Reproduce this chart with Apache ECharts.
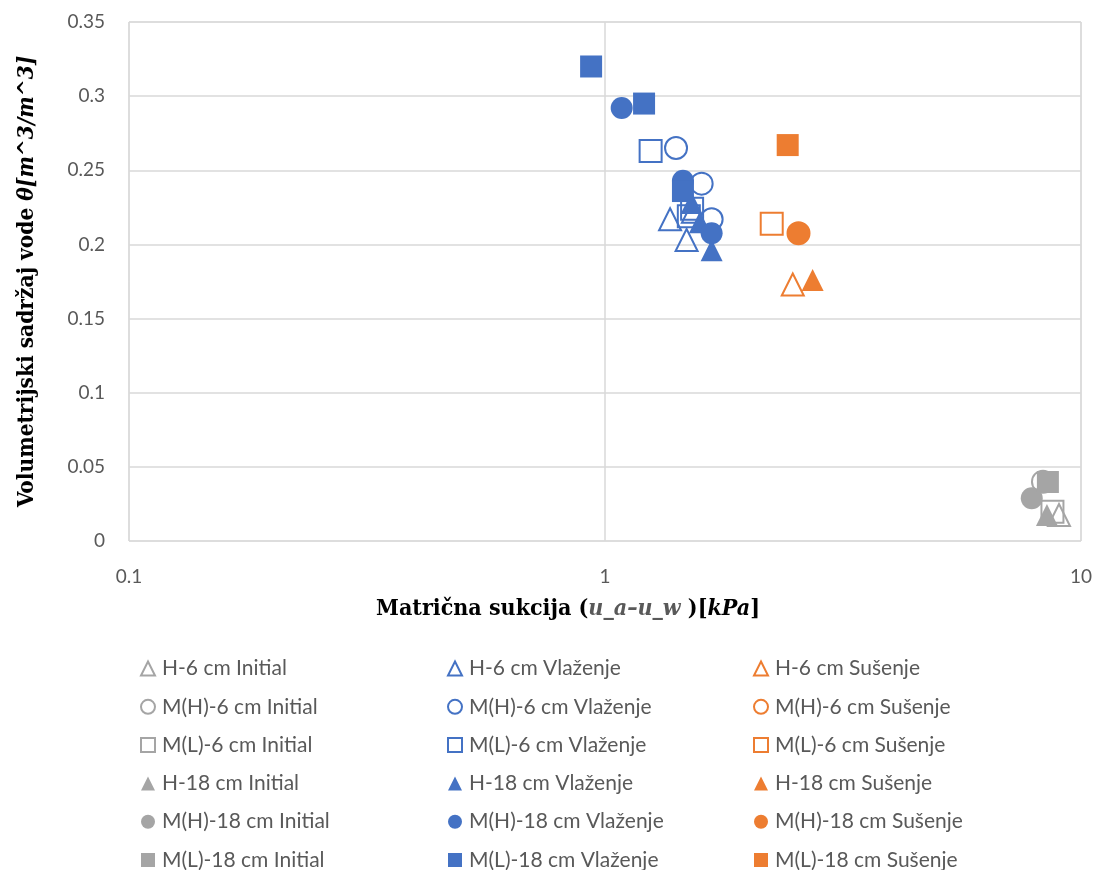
<!DOCTYPE html>
<html>
<head>
<meta charset="utf-8">
<script src="https://cdn.jsdelivr.net/npm/echarts@6/dist/echarts.min.js"></script>
<style>
  html, body { margin: 0; padding: 0; background: #fff; }
  #myEchart { width: 1103px; height: 870px; }
</style>
</head>
<body>
<div id="myEchart"></div>
<script>
// [matrična sukcija kPa, volumetrijski sadržaj vode]
const h6Initial   = [[8.99, 0.0175]];
const mh6Initial  = [[8.32, 0.040]];
const ml6Initial  = [[8.71, 0.0198]];
const h18Initial  = [[8.48, 0.0175]];
const mh18Initial = [[7.88, 0.0288]];
const ml18Initial = [[8.52, 0.0398]];

const h6Vlazenje   = [[1.37, 0.217], [1.484, 0.203], [1.53, 0.222]];
const mh6Vlazenje  = [[1.41, 0.265], [1.596, 0.241], [1.675, 0.217]];
const ml6Vlazenje  = [[1.247, 0.263], [1.50, 0.219], [1.524, 0.224]];
const h18Vlazenje  = [[1.52, 0.228], [1.583, 0.215], [1.675, 0.196]];
const mh18Vlazenje = [[1.084, 0.292], [1.458, 0.243], [1.675, 0.2075]];
const ml18Vlazenje = [[0.935, 0.32], [1.208, 0.295], [1.458, 0.236]];

const h6Susenje   = [[2.48, 0.173]];
const mh6Susenje  = [[2.55, 0.2075]];
const ml6Susenje  = [[2.24, 0.214]];
const h18Susenje  = [[2.73, 0.176]];
const mh18Susenje = [[2.55, 0.2075]];
const ml18Susenje = [[2.42, 0.267]];

const yTicks = [0, 0.05, 0.1, 0.15, 0.2, 0.25, 0.3, 0.35];

const uzorci = ['H-6 cm', 'M(H)-6 cm', 'M(L)-6 cm', 'H-18 cm', 'M(H)-18 cm', 'M(L)-18 cm'];
const faze = ['Initial', 'Vlaženje', 'Sušenje'];
const podaci = {
  Initial:  [h6Initial, mh6Initial, ml6Initial, h18Initial, mh18Initial, ml18Initial],
  'Vlaženje': [h6Vlazenje, mh6Vlazenje, ml6Vlazenje, h18Vlazenje, mh18Vlazenje, ml18Vlazenje],
  'Sušenje':  [h6Susenje, mh6Susenje, ml6Susenje, h18Susenje, mh18Susenje, ml18Susenje]
};
const boje = { Initial: '#a5a5a5', 'Vlaženje': '#4472c4', 'Sušenje': '#ed7d31' };
const simboli = ['triangle', 'circle', 'rect', 'triangle', 'circle', 'rect'];

let series = [];
uzorci.forEach((u, i) => {
  faze.forEach(f => {
    let prazan = i < 3;
    series.push({
      name: u + ' ' + f,
      type: 'scatter',
      symbol: simboli[i],
      symbolSize: 22,
      data: podaci[f][i],
      itemStyle: prazan
        ? { color: 'rgba(255,255,255,0)', borderColor: boje[f], borderWidth: 2, opacity: 1 }
        : { color: boje[f], borderWidth: 0, opacity: 1 }
    });
  });
});

let legendCol = (f, left) => ({
  orient: 'vertical',
  left: left,
  top: 658,
  height: 214,
  padding: 0,
  itemWidth: 14,
  itemHeight: 14,
  itemGap: 17.3,
  textStyle: { fontFamily: 'Lato', fontSize: 21, color: '#595959', padding: [0, 0, 0, 2] },
  data: uzorci.map(u => u + ' ' + f)
});

const serif = "'DejaVu Serif Condensed', 'DejaVu Serif', serif";

let option = {
  animation: false,
  backgroundColor: '#fff',
  grid: {
    left: 129, right: 22, top: 22, bottom: 329,
    show: true, borderColor: '#d9d9d9', borderWidth: 1
  },
  legend: [legendCol('Initial', 140), legendCol('Vlaženje', 447), legendCol('Sušenje', 753)],
  xAxis: {
    type: 'log',
    logBase: 10,
    min: 0.1,
    max: 10,
    name: '{b|Matrična sukcija (}{g|u_a–u_w }{b|)[}{k|kPa}{b|]}',
    nameLocation: 'middle',
    nameGap: 57,
    nameTextStyle: {
      padding: [0, 74, 0, 0],
      rich: {
        b: { fontFamily: serif, fontWeight: 'bold', fontSize: 23, color: '#000' },
        g: { fontFamily: serif, fontStyle: 'italic', fontWeight: 'bold', fontSize: 23, color: '#595959' },
        k: { fontFamily: serif, fontStyle: 'italic', fontWeight: 'bold', fontSize: 23, color: '#000' }
      }
    },
    axisLine: { show: false },
    axisTick: { show: false },
    axisLabel: { fontFamily: 'Lato', fontSize: 19, color: '#595959', margin: 26 },
    splitLine: { show: true, lineStyle: { color: '#d9d9d9', width: 1.5 } }
  },
  yAxis: {
    type: 'value',
    min: yTicks[0],
    max: yTicks[yTicks.length - 1],
    interval: 0.05,
    name: '{b|Volumetrijski sadržaj vode }{k|θ[m^3/m^3]}',
    nameLocation: 'middle',
    nameGap: 90,
    nameTextStyle: {
      rich: {
        b: { fontFamily: serif, fontWeight: 'bold', fontSize: 22.5, color: '#000' },
        k: { fontFamily: serif, fontStyle: 'italic', fontWeight: 'bold', fontSize: 22.5, color: '#000' }
      }
    },
    axisLine: { show: false },
    axisTick: { show: false },
    axisLabel: { fontFamily: 'Lato', fontSize: 19, color: '#595959', margin: 24 },
    splitLine: { show: true, lineStyle: { color: '#d9d9d9', width: 1.5 } }
  },
  series: series
};

let chart = echarts.init(document.getElementById('myEchart'));
chart.setOption(option, true);
</script>
</body>
</html>
